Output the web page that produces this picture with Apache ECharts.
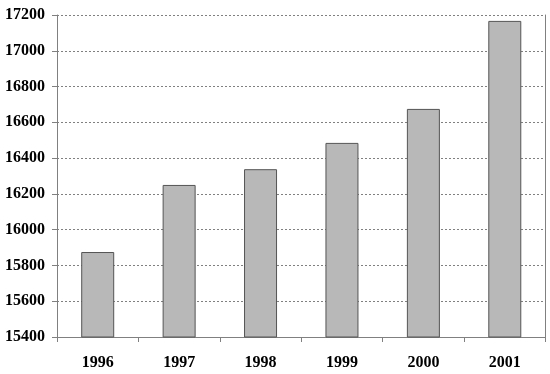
<!DOCTYPE html>
<html><head><meta charset="utf-8">
<script src="https://cdn.jsdelivr.net/npm/echarts@6/dist/echarts.min.js"></script>
<style>html,body{margin:0;padding:0;background:#fff}#c{width:550px;height:374px}</style>
</head><body><div id="c"></div>
<script>
const categories = ['1996','1997','1998','1999','2000','2001'];
const values = [15875, 16250, 16338, 16485, 16675, 17167];
const yMin = 15400, yMax = 17200, yStep = 200;

const chart = echarts.init(document.getElementById('c'), null, {renderer:'canvas'});
const font = {fontFamily:'Liberation Serif', fontWeight:'bold', fontSize:16, color:'#000'};
chart.setOption({
  animation:false,
  grid:{left:57, right:4.5, top:15, bottom:37, containLabel:false},
  xAxis:{type:'category', data:categories,
    axisLine:{lineStyle:{color:'#808080', width:1}},
    axisTick:{show:true, alignWithLabel:false, length:5, lineStyle:{color:'#808080'}},
    axisLabel:Object.assign({margin:18}, font),
    splitLine:{show:false}},
  yAxis:[{type:'value', min:yMin, max:yMax, interval:yStep,
    axisLine:{show:true, lineStyle:{color:'#808080', width:1}},
    axisTick:{show:true, length:5, lineStyle:{color:'#808080'}},
    axisLabel:Object.assign({margin:12, formatter:function(v){return String(v);}}, font),
    splitLine:{show:true, lineStyle:{color:'#808080', type:[2,2], width:1}}},
    {type:'value', min:yMin, max:yMax, interval:yStep, position:'right',
    axisLine:{show:true, lineStyle:{color:'#808080', width:1}},
    axisTick:{show:false}, axisLabel:{show:false}, splitLine:{show:false}}],
  series:[{type:'bar', data:values, barWidth:33,
    itemStyle:{color:'#b8b8b8', borderColor:'#555', borderWidth:1}}]
});
</script></body></html>
